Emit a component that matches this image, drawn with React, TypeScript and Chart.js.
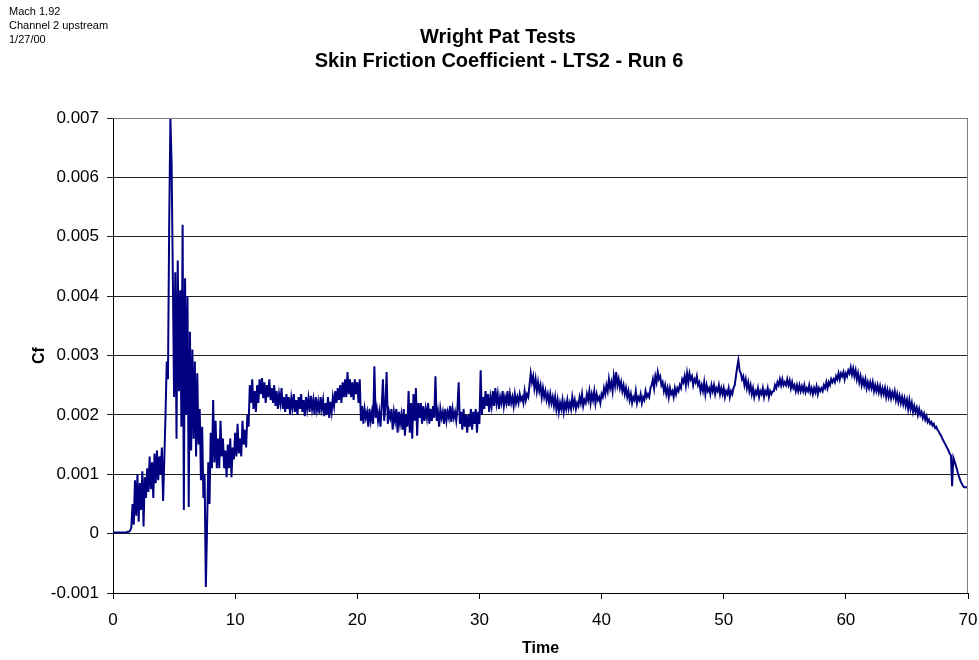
import React, { useEffect, useRef } from "react";
import { Chart, registerables } from "chart.js";

Chart.register(...registerables);

// Cf values in units of 0.001, sampled from t = 0.0 to 12.0 every 0.1 s
const timeStartA = 0;
const timeStepA = 0.1;
const cfMilliA = [
  0.02, 0.02, 0.02, 0.02, 0.02, 0.02, 0.02, 0.02, 0.02, 0.02, 0.02, 0.02, 0.03, 0.03, 0.05,
  0.1, 0.5, 0.15, 0.9, 0.3, 1.0, 0.2, 0.85, 0.4, 1.05,
  0.12, 0.95, 0.6, 1.1, 0.7, 1.3, 0.75, 1.2, 0.6, 1.35,
  0.85, 1.4, 0.9, 1.3, 1.0, 1.45, 0.55, 1.25, 2.0, 2.9,
  2.6, 5.2, 7.0, 6.2, 4.3, 2.3, 4.4, 1.6, 4.6, 2.4,
  4.1, 1.8, 5.2, 0.4, 4.3, 2.0, 4.0, 0.45, 3.4, 1.4,
  3.1, 1.6, 2.9, 1.3, 2.7, 1.5, 2.1, 0.9, 1.8, 0.6,
  1.0, -0.9, 0.1, 1.2, 0.5, 1.7, 1.1, 2.25, 1.2, 1.9,
  1.1, 1.6, 1.1, 1.9, 1.3, 1.6, 1.1, 1.4, 0.95, 1.5,
  1.1, 1.6, 0.95, 1.45, 1.25, 1.7, 1.3, 1.85, 1.35, 1.6,
  1.3, 1.9, 1.5, 1.75, 1.45, 2.0, 1.8, 2.5, 2.2, 2.6,
  2.1, 2.4, 2.05, 2.5, 2.2, 2.6,
];

// Cf values in units of 0.001, sampled from t = 12.1 to 70.0 every 0.1 s (one row per second)
const timeStartB = 12.1;
const timeStepB = 0.1;
const cfMilliB = [
  2.35, 2.62, 2.28, 2.55, 2.2, 2.5, 2.3, 2.6, 2.25, 2.45,
  2.2, 2.5, 2.15, 2.4, 2.1, 2.35, 2.2, 2.45, 2.1, 2.3,
  2.05, 2.35, 2.1, 2.3, 2.0, 2.28, 2.12, 2.35, 2.05, 2.25,
  2.0, 2.3, 2.1, 2.35, 2.05, 2.25, 1.98, 2.3, 2.1, 2.28,
  2.05, 2.32, 2.1, 2.25, 2.0, 2.3, 2.08, 2.22, 2.02, 2.3,
  2.1, 2.25, 1.98, 2.2, 2.0, 2.3, 1.95, 2.22, 2.05, 2.3,
  2.15, 2.4, 2.2, 2.45, 2.25, 2.5, 2.2, 2.55, 2.3, 2.6,
  2.3, 2.72, 2.35, 2.6, 2.3, 2.55, 2.25, 2.6, 2.35, 2.55,
  2.2, 2.6, 1.9, 2.15, 1.85, 2.1, 1.95, 2.05, 1.8, 2.1,
  1.9, 2.05, 1.85, 2.82, 1.95, 2.1, 1.9, 2.05, 1.8, 2.15,
  2.6, 1.9, 2.15, 2.72, 1.85, 2.05, 1.95, 2.1, 1.75, 2.05,
  1.9, 2.1, 1.7, 2.05, 1.85, 2.0, 1.75, 2.1, 1.65, 2.0,
  1.8, 2.4, 1.7, 2.2, 1.6, 2.35, 1.9, 2.45, 1.65, 2.2,
  1.95, 2.2, 1.85, 2.15, 1.9, 2.1, 1.95, 2.2, 1.85, 2.1,
  1.9, 2.15, 1.95, 2.65, 1.9, 2.05, 1.8, 2.1, 1.95, 2.05,
  1.85, 2.1, 1.9, 2.05, 1.95, 2.15, 1.88, 2.1, 1.95, 2.05,
  1.9, 2.1, 2.55, 1.85, 2.05, 1.75, 2.1, 1.8, 2.0, 1.7,
  2.0, 1.8, 2.1, 1.75, 2.05, 1.85, 2.1, 1.7, 2.05, 1.85,
  2.75, 2.0, 2.3, 2.1, 2.4, 2.15, 2.35, 2.05, 2.3, 2.15,
  2.4, 2.15, 2.45, 2.2, 2.35, 2.1, 2.3, 2.2, 2.4, 2.15,
  2.3, 2.2, 2.4, 2.15, 2.35, 2.2, 2.3, 2.15, 2.35, 2.2,
  2.3, 2.2, 2.35, 2.25, 2.3, 2.2, 2.4, 2.25, 2.35, 2.3,
  2.5, 2.7, 2.55, 2.65, 2.45, 2.6, 2.4, 2.55, 2.4, 2.5,
  2.3, 2.45, 2.3, 2.4, 2.25, 2.35, 2.2, 2.35, 2.2, 2.3,
  2.15, 2.3, 2.1, 2.25, 2.05, 2.2, 2.1, 2.25, 2.05, 2.2,
  2.1, 2.25, 2.1, 2.2, 2.1, 2.3, 2.15, 2.25, 2.1, 2.2,
  2.15, 2.3, 2.2, 2.35, 2.15, 2.25, 2.2, 2.35, 2.25, 2.4,
  2.2, 2.35, 2.25, 2.4, 2.2, 2.35, 2.25, 2.3, 2.2, 2.35,
  2.3, 2.45, 2.35, 2.5, 2.4, 2.6, 2.45, 2.55, 2.4, 2.65,
  2.5, 2.72, 2.5, 2.6, 2.45, 2.55, 2.4, 2.5, 2.35, 2.45,
  2.3, 2.4, 2.25, 2.35, 2.2, 2.3, 2.25, 2.4, 2.2, 2.3,
  2.25, 2.35, 2.2, 2.3, 2.25, 2.4, 2.3, 2.35, 2.3, 2.45,
  2.5, 2.6, 2.45, 2.65, 2.55, 2.72, 2.6, 2.65, 2.5, 2.55,
  2.4, 2.5, 2.35, 2.45, 2.3, 2.45, 2.35, 2.4, 2.3, 2.45,
  2.35, 2.45, 2.4, 2.5, 2.45, 2.6, 2.55, 2.65, 2.5, 2.7,
  2.55, 2.7, 2.6, 2.65, 2.5, 2.6, 2.55, 2.65, 2.5, 2.55,
  2.4, 2.5, 2.4, 2.55, 2.35, 2.5, 2.4, 2.45, 2.35, 2.5,
  2.4, 2.5, 2.35, 2.45, 2.4, 2.5, 2.35, 2.45, 2.35, 2.45,
  2.3, 2.4, 2.35, 2.45, 2.3, 2.4, 2.35, 2.45, 2.5, 2.65,
  2.8, 2.92, 2.75, 2.7, 2.6, 2.65, 2.5, 2.6, 2.45, 2.55,
  2.4, 2.5, 2.35, 2.45, 2.3, 2.4, 2.35, 2.45, 2.3, 2.4,
  2.35, 2.45, 2.3, 2.4, 2.35, 2.45, 2.3, 2.4, 2.35, 2.4,
  2.4, 2.5, 2.45, 2.55, 2.5, 2.6, 2.5, 2.6, 2.5, 2.55,
  2.5, 2.6, 2.5, 2.58, 2.45, 2.55, 2.45, 2.5, 2.4, 2.5,
  2.4, 2.5, 2.4, 2.48, 2.4, 2.5, 2.38, 2.45, 2.4, 2.5,
  2.38, 2.45, 2.35, 2.45, 2.38, 2.48, 2.35, 2.45, 2.4, 2.45,
  2.4, 2.5, 2.45, 2.55, 2.45, 2.55, 2.5, 2.6, 2.55, 2.6,
  2.55, 2.65, 2.6, 2.7, 2.6, 2.7, 2.65, 2.72, 2.6, 2.7,
  2.65, 2.75, 2.7, 2.8, 2.68, 2.78, 2.65, 2.75, 2.6, 2.7,
  2.55, 2.65, 2.5, 2.6, 2.5, 2.6, 2.45, 2.55, 2.45, 2.55,
  2.45, 2.55, 2.4, 2.5, 2.4, 2.5, 2.38, 2.48, 2.35, 2.45,
  2.35, 2.45, 2.3, 2.42, 2.3, 2.4, 2.28, 2.38, 2.3, 2.4,
  2.25, 2.35, 2.22, 2.32, 2.2, 2.3, 2.18, 2.28, 2.15, 2.25,
  2.1, 2.25, 2.1, 2.2, 2.05, 2.15, 2.05, 2.12, 2.0, 2.1,
  2.0, 2.05, 1.95, 2.02, 1.92, 1.98, 1.88, 1.92, 1.85, 1.88,
  1.82, 1.85, 1.78, 1.8, 1.75, 1.72, 1.68, 1.65, 1.6, 1.56,
  1.52, 1.48, 1.44, 1.4, 1.35, 1.32, 0.8, 1.28, 1.22, 1.15,
  1.08, 1.0, 0.94, 0.88, 0.84, 0.8, 0.78, 0.78, 0.78, 0.78,
];

const titleLines = ["Wright Pat Tests", "Skin Friction Coefficient - LTS2 - Run 6"];
const noteLines = ["Mach 1.92", "Channel 2 upstream", "1/27/00"];
const xTitle = "Time";
const yTitle = "Cf";
const xMin = 0;
const xMax = 70;
const xStep = 10;
const yMin = -0.001;
const yMax = 0.007;
const yStep = 0.001;

const FONT = "'Liberation Sans', Arial, sans-serif";

export default function App() {
  const canvasRef = useRef<HTMLCanvasElement | null>(null);

  useEffect(() => {
    document.body.style.margin = "0";
    const canvas = canvasRef.current;
    if (!canvas) return;

    const points = [
      ...cfMilliA.map((v, i) => ({ x: +(timeStartA + i * timeStepA).toFixed(2), y: v / 1000 })),
      ...cfMilliB.map((v, i) => ({ x: +(timeStartB + i * timeStepB).toFixed(2), y: v / 1000 })),
    ];

    const decor = {
      id: "decor",
      afterDraw(chart: any) {
        const { ctx, chartArea } = chart;
        ctx.save();
        ctx.strokeStyle = "#808080";
        ctx.lineWidth = 1;
        ctx.beginPath();
        ctx.moveTo(chartArea.left, chartArea.top + 0.5);
        ctx.lineTo(chartArea.right - 0.5, chartArea.top + 0.5);
        ctx.lineTo(chartArea.right - 0.5, chartArea.bottom);
        ctx.stroke();
        ctx.fillStyle = "#000";
        ctx.textAlign = "center";
        ctx.textBaseline = "middle";
        ctx.font = `bold 20px ${FONT}`;
        ctx.fillText(titleLines[0], 498, 37);
        ctx.fillText(titleLines[1], 499, 61);
        ctx.textAlign = "left";
        ctx.font = `11px ${FONT}`;
        noteLines.forEach((t, i) => ctx.fillText(t, 9, 12 + i * 14));
        ctx.restore();
      },
    };

    const chart = new Chart(canvas, {
      type: "line",
      data: {
        datasets: [
          {
            data: points,
            borderColor: "#000080",
            borderWidth: 2,
            pointRadius: 0,
            tension: 0,
            fill: false,
          },
        ],
      },
      options: {
        animation: false,
        responsive: false,
        maintainAspectRatio: false,
        layout: { padding: { top: 118, right: 11, left: 0, bottom: 0 } },
        plugins: { legend: { display: false }, tooltip: { enabled: false }, title: { display: false } },
        scales: {
          x: {
            type: "linear",
            min: xMin,
            max: xMax,
            afterFit: (s: any) => {
              s.height = 67;
              s.paddingLeft = 0;
              s.paddingRight = 0;
            },
            ticks: {
              stepSize: xStep,
              color: "#000",
              font: { family: FONT, size: 17 },
              padding: 11,
              maxRotation: 0,
            },
            grid: { drawOnChartArea: false, drawTicks: true, tickLength: 6, color: "#000" },
            border: { color: "#000", width: 1 },
            title: {
              display: true,
              text: xTitle,
              color: "#000",
              font: { family: FONT, size: 16, weight: "bold" },
              padding: { top: 0, bottom: 2 },
            },
          },
          y: {
            type: "linear",
            min: yMin,
            max: yMax,
            afterFit: (s: any) => {
              s.width = 113;
              s.paddingTop = 0;
              s.paddingBottom = 0;
            },
            ticks: {
              stepSize: yStep,
              color: "#000",
              font: { family: FONT, size: 17 },
              padding: 8,
            },
            grid: { drawOnChartArea: true, drawTicks: true, tickLength: 6, color: "#222" },
            border: { color: "#000", width: 1 },
            title: {
              display: true,
              text: yTitle,
              color: "#000",
              font: { family: FONT, size: 16, weight: "bold" },
              padding: { top: 30, bottom: 0 },
            },
          },
        },
      },
      plugins: [decor],
    });

    return () => chart.destroy();
  }, []);

  return (
    <div style={{ width: 979, height: 660, position: "relative" }}>
      <canvas ref={canvasRef} width={979} height={660} style={{ display: "block" }} />
    </div>
  );
}
